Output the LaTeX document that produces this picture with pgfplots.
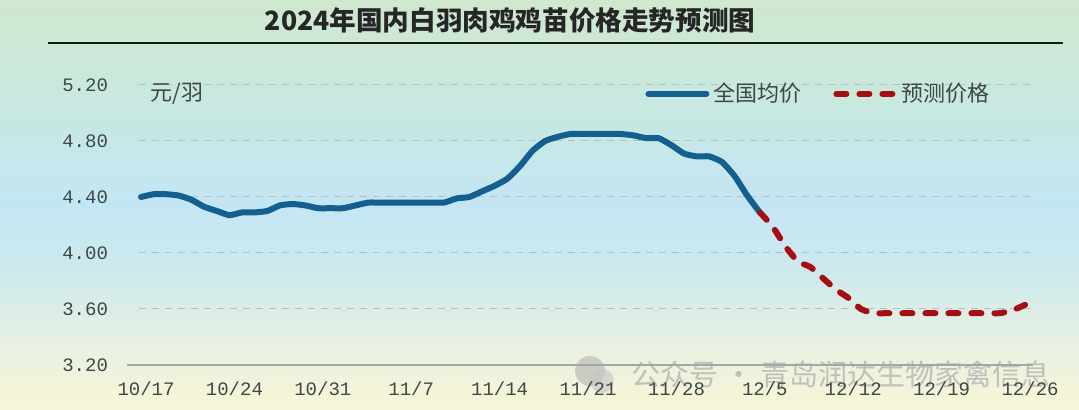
\documentclass[border=0pt]{standalone}
\usepackage{fontspec}
\usepackage{pgfplots}
\pgfplotsset{compat=1.18}
\setmainfont{Liberation Serif}
\newfontfamily\cjk{Noto Sans CJK SC}
\newfontfamily\tickfont{Liberation Mono}
\definecolor{bgtop}{HTML}{CFE8CE}
\definecolor{bgtop2}{HTML}{C9E8DE}
\definecolor{bgblue}{HTML}{C4E6F4}
\definecolor{bgblue2}{HTML}{CDE9EE}
\definecolor{bglow}{HTML}{E8F1E2}
\definecolor{bgbot}{HTML}{F8F5D6}
\definecolor{lineblue}{HTML}{135F8F}
\definecolor{linered}{HTML}{A50F12}
\definecolor{txt}{HTML}{3E4646}
\definecolor{gridc}{HTML}{B4C0C3}
\pgfdeclareverticalshading{bgshade}{100bp}{color(0bp)=(bgbot); color(25bp)=(bgbot); color(33bp)=(bglow); color(42bp)=(bgblue2); color(50bp)=(bgblue); color(64bp)=(bgtop2); color(75bp)=(bgtop); color(100bp)=(bgtop)}
\pgfplotstableread{
x y
0 4.40
1 4.42
2 4.42
3 4.41
4 4.38
5 4.33
6 4.30
7 4.27
8 4.29
9 4.29
10 4.30
11 4.34
12 4.35
13 4.34
14 4.32
15 4.32
16 4.32
17 4.34
18 4.36
19 4.36
20 4.36
21 4.36
22 4.36
23 4.36
24 4.36
25 4.39
26 4.40
27 4.44
28 4.48
29 4.53
30 4.62
31 4.73
32 4.80
33 4.83
34 4.85
35 4.85
36 4.85
37 4.85
38 4.85
39 4.84
40 4.82
41 4.82
42 4.77
43 4.71
44 4.69
45 4.69
46 4.65
47 4.55
48 4.41
49 4.29
}\actual
\pgfplotstableread{
x y
49 4.29
50 4.19
51 4.05
52 3.94
53 3.90
54 3.82
55 3.74
56 3.68
57 3.60
58 3.57
59 3.57
60 3.57
61 3.57
62 3.57
63 3.57
64 3.57
65 3.57
66 3.57
67 3.57
68 3.57
69 3.59
70 3.63
}\forecast
\begin{document}
\begin{tikzpicture}[x=1pt,y=1pt]
\shade[shading=bgshade] (0,0) rectangle (539.5,205);
\useasboundingbox (0,0) rectangle (539.5,205);
\node[font=\cjk\bfseries\fontsize{13.3}{15}\selectfont, text=black!85] at (255,195) {2024年国内白羽肉鸡鸡苗价格走势预测图};
\draw[line width=1.1pt, black!90] (24,183.5) -- (531.5,183.5);
\node[font=\cjk\fontsize{14.5}{16}\selectfont, text=gray!70, anchor=west, opacity=0.65] at (312,18) {公众号 · 青岛润达生物家禽信息};
\fill[gray!55, opacity=0.65] (295,19.5) circle (7.5pt);
\fill[gray!45, opacity=0.65] (301,14.5) circle (6pt);
\begin{axis}[
  at={(69.5pt,22.5pt)}, anchor=south west,
  scale only axis, width=447pt, height=140pt,
  xmin=-0.16, xmax=70.63, ymin=3.2, ymax=5.2,
  axis line style={draw=none},
  major tick length=0pt,
  xtick={0,7,...,70},
  xticklabels={10/17,10/24,10/31,11/7,11/14,11/21,11/28,12/5,12/12,12/19,12/26},
  ytick={3.2,3.6,4.0,4.4,4.8,5.2},
  ymajorgrids,
  major grid style={gridc, line width=0.5pt, dash pattern=on 3.5pt off 3pt},
  /pgf/number format/.cd, fixed, fixed zerofill, precision=2, assume math mode=true,
  /pgfplots/.cd,
  tick label style={font=\tickfont\fontsize{9.5}{10}\selectfont, text=txt},
  xticklabel style={yshift=-5pt, xshift=2.5pt},
  yticklabel style={xshift=-12pt},
  legend style={at={(rel axis cs:0.566,0.968)}, anchor=west, draw=none, fill=none,
    font=\cjk\fontsize{11}{12}\selectfont, text=txt, legend columns=2,
    /tikz/every even column/.append style={column sep=14pt},
    inner sep=0pt},
  legend image code/.code={\draw[#1] (0pt,0pt) -- (29pt,0pt);},
  clip=false,
]
\draw[gray!70, line width=0.8pt] ([xshift=-6pt]rel axis cs:0,0) -- (rel axis cs:1,0);
\addplot[lineblue, line width=3pt, smooth, tension=0.3, line cap=round] table[x=x,y=y] {\actual};
\addlegendentry{全国均价}
\addplot[linered, line width=3pt, smooth, tension=0.3, line cap=round, dash pattern=on 5pt off 6.5pt] table[x=x,y=y] {\forecast};
\addlegendentry{预测价格}
\node[anchor=west, font=\cjk\fontsize{11}{12}\selectfont, text=txt] at (rel axis cs:0.005,0.968) {元/羽};
\end{axis}
\end{tikzpicture}
\end{document}
